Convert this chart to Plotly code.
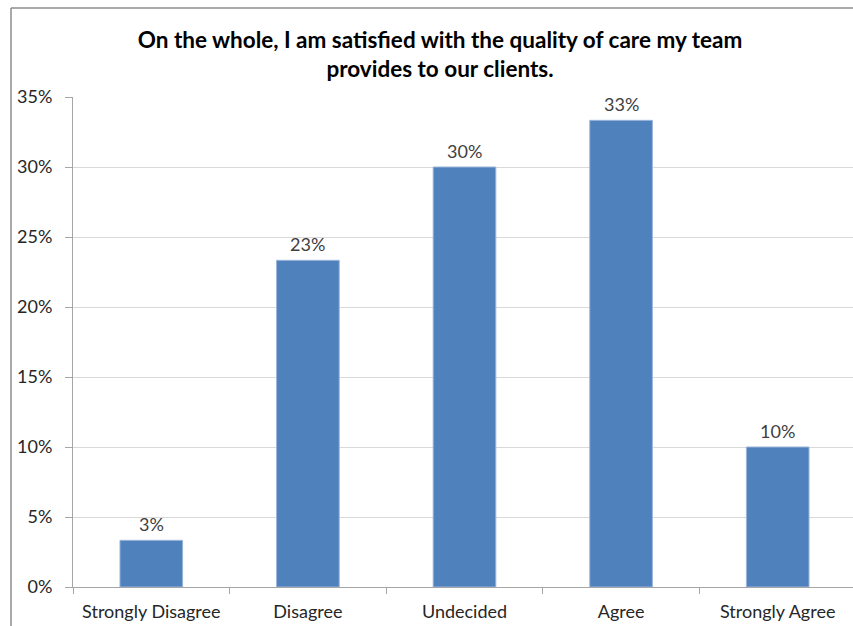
import plotly.graph_objects as go

categories = ["Strongly Disagree", "Disagree", "Undecided", "Agree", "Strongly Agree"]
values = [3.333, 23.333, 30.0, 33.333, 10.0]
labels = [f"{round(v)}%" for v in values]
y_ticks = [0, 5, 10, 15, 20, 25, 30, 35]
y_ticklabels = [f"{t}%" for t in y_ticks]
title_text = "On the whole, I am satisfied with the quality of care my team<br>provides to our clients."

W, H = 853, 626
L, R, T, B = 73, 0, 97, 39
plot_w = W - L - R
plot_h = H - T - B
FONT = "Lato, sans-serif"

fig = go.Figure()
fig.add_trace(go.Bar(
    x=categories, y=values,
    width=0.40,
    marker=dict(color="#4f81bd", line=dict(color="#9bb5d9", width=1)),
    cliponaxis=False,
))

annotations = [
    dict(x=c, y=v, text=t, showarrow=False, xanchor="center", yanchor="bottom",
         yshift=3, font=dict(family=FONT, size=18, color="#404040"))
    for c, v, t in zip(categories, values, labels)
]

def px_x(p):
    return (p - L) / plot_w

def px_y(p):
    return (H - B - p) / plot_h

fig.update_layout(
    width=W, height=H,
    margin=dict(l=L, r=R, t=T, b=B),
    paper_bgcolor="white", plot_bgcolor="white",
    showlegend=False,
    annotations=annotations,
    title=dict(text=title_text, x=440 / W, xanchor="center", xref="container",
               y=1 - 48 / H, yanchor="middle", yref="container",
               font=dict(family=FONT, size=22.5, color="#000000", weight="bold")),
    xaxis=dict(range=[-0.5, -0.5 + plot_w / 156.6], showgrid=False,
               showline=True, linecolor="#a6a6a6", linewidth=1,
               ticks="outside", tickson="boundaries", ticklen=6, tickcolor="#a6a6a6",
               ticklabelstandoff=8,
               tickfont=dict(family=FONT, size=18, color="#262626")),
    yaxis=dict(range=[0, 35], tickvals=y_ticks, ticktext=y_ticklabels,
               showgrid=True, gridcolor="#d9d9d9", gridwidth=1,
               showline=True, linecolor="#a6a6a6", linewidth=1,
               ticks="outside", ticklen=7, tickcolor="#a6a6a6",
               ticklabelstandoff=9,
               zeroline=False,
               tickfont=dict(family=FONT, size=18, color="#262626")),
    shapes=[
        dict(type="line", xref="paper", yref="paper",
             x0=px_x(11), x1=px_x(11), y0=px_y(8), y1=px_y(640),
             line=dict(color="#8c8c8c", width=1.5)),
        dict(type="line", xref="paper", yref="paper",
             x0=px_x(11), x1=px_x(870), y0=px_y(8), y1=px_y(8),
             line=dict(color="#8c8c8c", width=1.5)),
    ],
)

fig.write_html("out.html")
